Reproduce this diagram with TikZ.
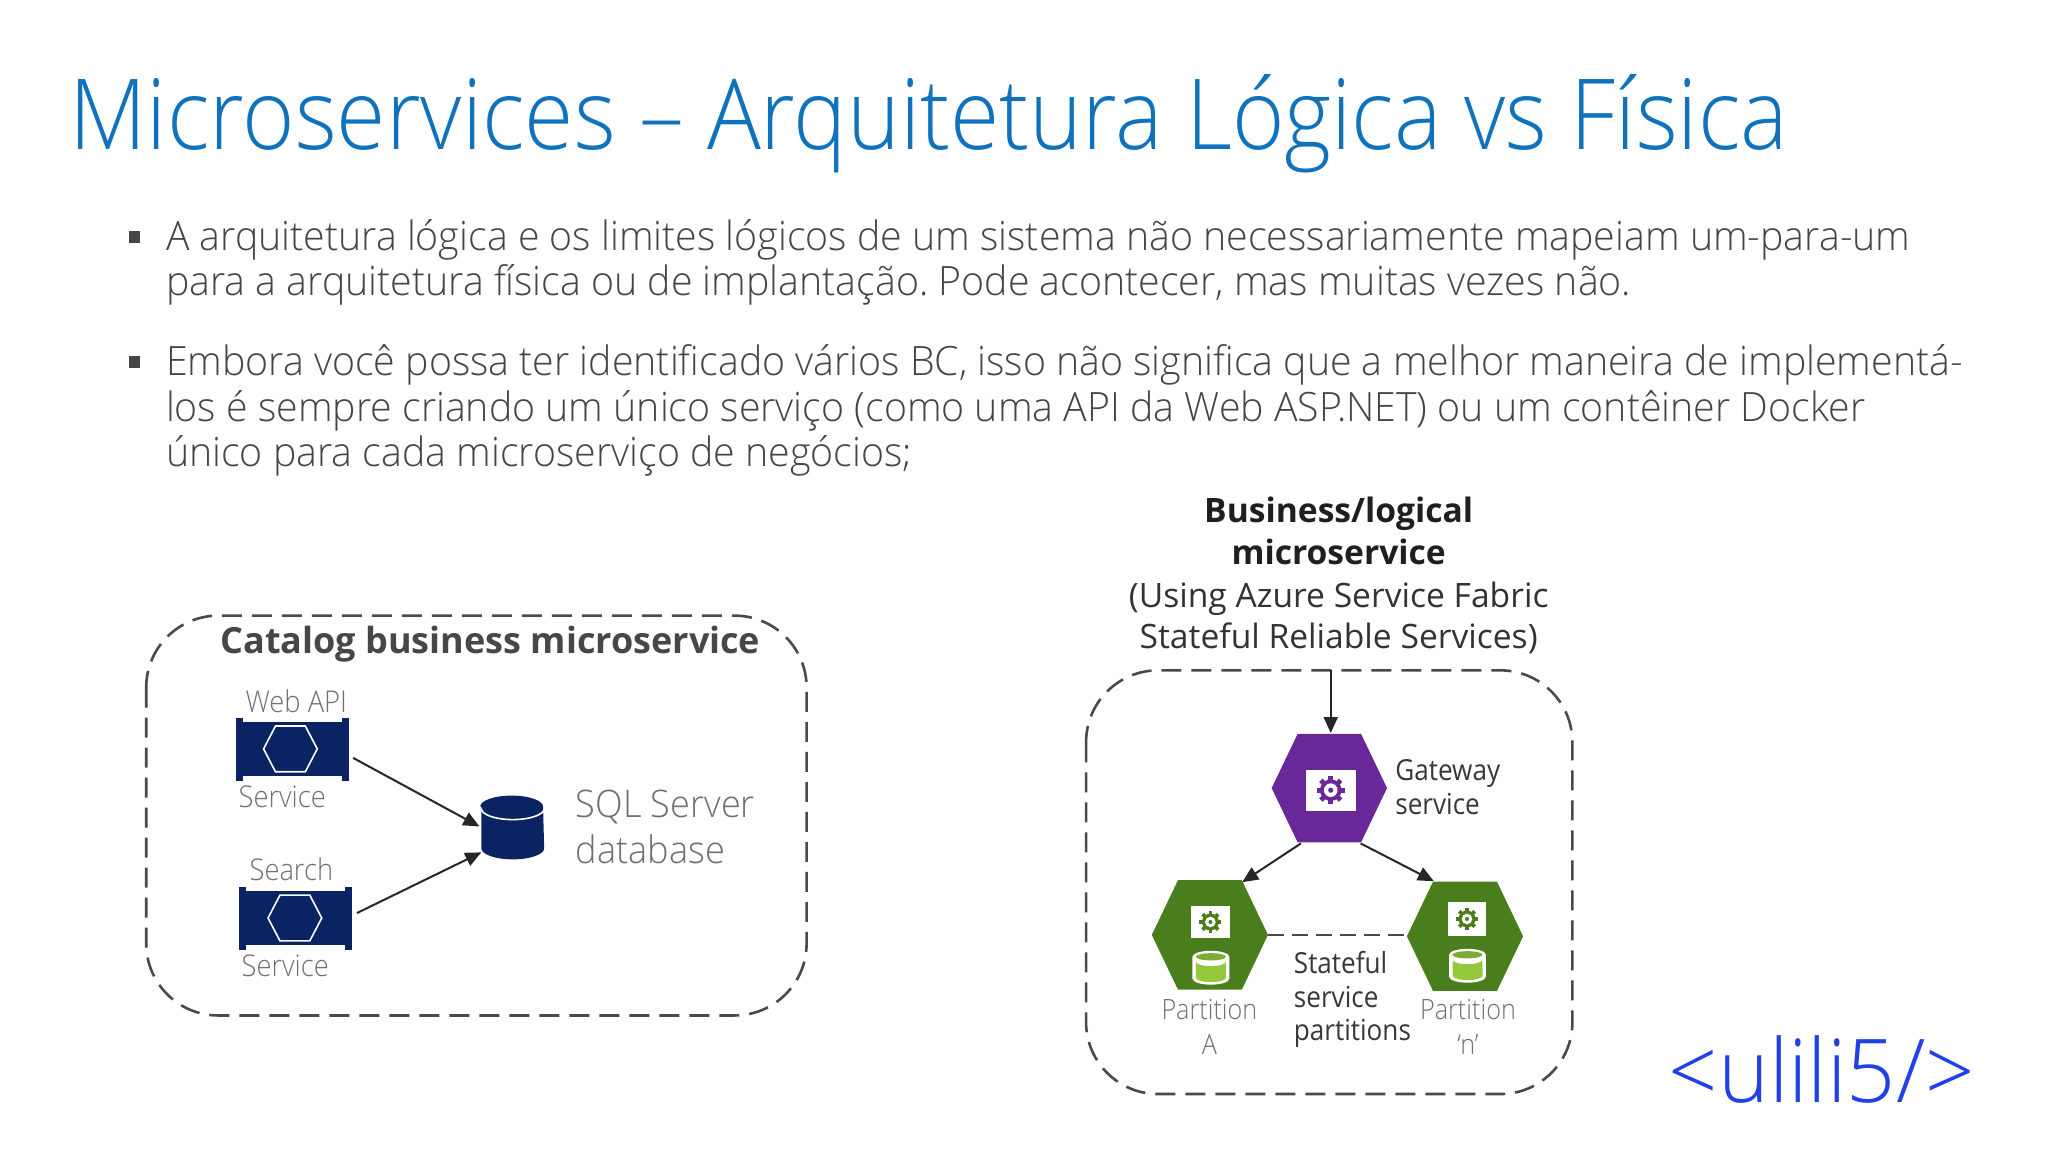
\documentclass[tikz,border=0pt]{standalone}
\usepackage{fontspec}
\setmainfont{Open Sans Light}
\newfontfamily\reg{Open Sans}
\newfontfamily\titlef[FakeStretch=0.914]{Open Sans Light}
\newfontfamily\bodyf[FakeStretch=0.972]{Open Sans Light}
\newfontfamily\labf[FakeStretch=0.91]{Open Sans Light}
\newfontfamily\partf[FakeStretch=0.9]{Open Sans Light}
\newfontfamily\sqlf[FakeStretch=0.95]{Open Sans Light}
\newfontfamily\darkf[FakeStretch=0.9]{Open Sans}
\newfontfamily\logof[FakeStretch=0.98]{Open Sans Light}
\usetikzlibrary{arrows.meta}
\definecolor{titleblue}{HTML}{1072BC}
\definecolor{bodygray}{HTML}{454545}
\definecolor{navy}{HTML}{0A2463}
\definecolor{purp}{HTML}{68289A}
\definecolor{grn}{HTML}{4A7E1C}
\definecolor{lgrn}{HTML}{96C83C}
\definecolor{logoblue}{HTML}{2040E8}
\definecolor{lab}{HTML}{707070}
\definecolor{dashc}{HTML}{4A4A4A}
\frenchspacing
\tikzset{
 x=0.4973pt,y=-0.4973pt,
 ln/.style={anchor=base west,inner sep=0,outer sep=0},
 ctr/.style={anchor=base,inner sep=0,outer sep=0},
 bodyl/.style={ln,text=bodygray,font=\bodyf\fontsize{20.2}{24}\selectfont},
 dashbox/.style={draw=dashc,line width=1.3pt,dash pattern=on 10pt off 5pt,rounded corners=36pt},
 labg/.style={ctr,text=lab,font=\partf\fontsize{14}{18}\selectfont},
 labl/.style={ln,text=lab,font=\labf\fontsize{15}{18}\selectfont},
 sqll/.style={ln,text=lab,font=\sqlf\fontsize{19}{22}\selectfont},
 labd/.style={ln,text=black!78,font=\darkf\fontsize{14.5}{18}\selectfont},
 arr/.style={draw=black!85,line width=1pt,-{Triangle[length=8pt,width=7pt]}},
 svc/.style={fill=navy,minimum width=56pt,minimum height=27pt,inner sep=0,outer sep=0},
}
% centre x, y, half width, half height, colour
\newcommand{\hexat}[5]{\fill[#5] (#1-#3,#2) -- (#1-0.55*#3,#2-#4) -- (#1+0.55*#3,#2-#4) -- (#1+#3,#2) -- (#1+0.55*#3,#2+#4) -- (#1-0.55*#3,#2+#4) -- cycle;}
% service hexagon outline
\newcommand{\hexline}[2]{\draw[white,line width=0.8pt] (#1-27,#2) -- (#1-15,#2-23) -- (#1+15,#2-23) -- (#1+27,#2) -- (#1+15,#2+23) -- (#1-15,#2+23) -- cycle;}
% service end caps
\newcommand{\caps}[4]{\fill[navy] (#1,#2) rectangle ++(7,63);\fill[navy] (#1+#3-7,#2) rectangle ++(7,63);
 \fill[white] (#1+7,#2) rectangle ++(#3-14,4);\fill[white] (#1+7,#2+59) rectangle ++(#3-14,4);}
% x y colour scale
\newcommand{\gearat}[4]{
 \begin{scope}[shift={(#1,#2)}]
 \foreach \a in {0,45,...,315}{\fill[#3,rotate=\a] (-#4*1.2pt,0) rectangle (#4*1.2pt,#4*7pt);}
 \fill[#3] (0,0) circle (#4*5.4pt);
 \fill[white] (0,0) circle (#4*3.4pt);
 \fill[#3] (0,0) circle (#4*1.3pt);
 \end{scope}}
% cx, top
\newcommand{\cylat}[2]{
 \fill[white] (#1-18.5,#2+5) -- (#1-18.5,#2+27) arc[x radius=9.2pt,y radius=3pt,start angle=180,end angle=360] -- (#1+18.5,#2+5) arc[x radius=9.2pt,y radius=3pt,start angle=0,end angle=180] -- cycle;
 \fill[lgrn] (#1-15,#2+10) -- (#1-15,#2+26) arc[x radius=7.5pt,y radius=2.2pt,start angle=180,end angle=360] -- (#1+15,#2+10) arc[x radius=7.5pt,y radius=2.2pt,start angle=360,end angle=180] -- cycle;
 \fill[lgrn!85!black] (#1,#2+5) ellipse (7.5pt and 1.8pt);
}
\begin{document}
\begin{tikzpicture}
\useasboundingbox (0,0) rectangle (2059.2,1158.3);
\fill[white] (0,0) rectangle (2059.2,1158.3);
\node[ln,text=titleblue,font=\titlef\fontsize{49}{60}\selectfont] (title) at (70,150.5) {Microservices – Arquitetura Lógica vs Física};
% bullets
\fill[bodygray] (130,232) rectangle (141,244);
\fill[bodygray] (130,358) rectangle (141,370);
\node[bodyl] (l1) at (167,251.5) {A arquitetura lógica e os limites lógicos de um sistema não necessariamente mapeiam um-para-um};
\node[bodyl] (l2) at (167,297.5) {para a arquitetura física ou de implantação. Pode acontecer, mas muitas vezes não.};
\node[bodyl] (l3) at (167,377.5) {Embora você possa ter identificado vários BC, isso não significa que a melhor maneira de implementá-};
\node[bodyl] (l4) at (167,423.5) {los é sempre criando um único serviço (como uma API da Web ASP.NET) ou um contêiner Docker};
\node[bodyl] (l5) at (167,469) {único para cada microserviço de negócios;};
% left box
\draw[dashbox] (147,619) rectangle (811,1021);
\node[ctr,text=black!72,font=\reg\bfseries\fontsize{18}{22}\selectfont] (catalog) at (493,657) {Catalog business microservice};
\node[labl] (webapi) at (247,716) {Web API};
\caps{237}{722}{114}{};
\node[svc] (s1) at (294,753) {};
\hexline{292}{753}
\node[labl] (svc1) at (240,811.5) {Service};
\node[labl] (search) at (251,885) {Search};
\caps{240}{892}{114}{};
\node[svc] (s2) at (297,923) {};
\hexline{296.5}{923}
\node[labl] (svc2) at (243,982) {Service};
\fill[navy] (484,811) -- (484,853) arc[x radius=15.7pt,y radius=5.5pt,start angle=180,end angle=360] -- (546,811) arc[x radius=15.7pt,y radius=5.5pt,start angle=0,end angle=180] -- cycle;
\draw[white,line width=0.8pt] (484,813) arc[x radius=15.7pt,y radius=5.5pt,start angle=180,end angle=360];
\coordinate (dbin1) at (482,831);
\coordinate (dbin2) at (484,857);
\coordinate (s1out) at (355,762);
\coordinate (s2out) at (359,918);
\draw[arr] (s1out) -- (dbin1);
\draw[arr] (s2out) -- (dbin2);
\node[sqll] (sql1) at (579,821.5) {SQL Server};
\node[sqll] (sql2) at (579,868) {database};
% right heading
\node[ctr,text=black!88,font=\reg\bfseries\fontsize{16.8}{20}\selectfont] (bl1) at (1346,525) {Business/logical};
\node[ctr,text=black!88,font=\reg\bfseries\fontsize{16.8}{20}\selectfont] (bl2) at (1346,567.5) {microservice};
\node[ctr,text=black!80,font=\reg\fontsize{16.8}{20}\selectfont] (bl3) at (1346,610.5) {(Using Azure Service Fabric};
\node[ctr,text=black!80,font=\reg\fontsize{16.8}{20}\selectfont] (bl4) at (1346,652.5) {Stateful Reliable Services)};
% right box
\draw[dashbox] (1092,674) rectangle (1581,1100);
% hexes
\hexat{1336.6}{792.4}{58}{54.5}{purp}
\hexat{1216.5}{940}{58.4}{55}{grn}
\hexat{1473}{941.4}{58.4}{55}{grn}
\coordinate (top) at (1338,674);
\coordinate (gwtop) at (1338,737);
\coordinate (gwbl) at (1308,848);
\coordinate (gwbr) at (1368,848);
\coordinate (patop) at (1249,887);
\coordinate (pntop) at (1441.7,886);
\coordinate (paeast) at (1274.9,940);
\coordinate (pnwest) at (1414.6,940);
\draw[arr] (top) -- (gwtop);
\draw[arr] (gwbl) -- (patop);
\draw[arr] (gwbr) -- (pntop);
\draw[dashc,line width=1.2pt,dash pattern=on 8pt off 4pt] (paeast) -- (pnwest);
\fill[white] (1313,774) rectangle (1363,815);
\gearat{1338}{794.5}{purp}{1}
\fill[white] (1197,911) rectangle (1237,943);
\gearat{1217}{927}{grn}{0.78}
\fill[white] (1456,907) rectangle (1494,941);
\gearat{1475}{924}{grn}{0.78}
\cylat{1217.5}{957}
\cylat{1475.5}{955}
\node[labd] (g1) at (1403,784.5) {Gateway};
\node[labd] (g2) at (1403,818.5) {service};
\node[labd] (st1) at (1301,979) {Stateful};
\node[labd] (st2) at (1301,1012.5) {service};
\node[labd] (st3) at (1301,1046) {partitions};
\node[labg] (pa1) at (1216,1025) {Partition};
\node[labg] (pa2) at (1216,1060) {A};
\node[labg] (pn1) at (1476,1025) {Partition};
\node[labg] (pn2) at (1476,1060) {‘n’};
\node[ln,text=logoblue,font=\logof\fontsize{44}{50}\selectfont] (logo) at (1678,1109) {<ulili5/>};
\end{tikzpicture}
\end{document}
